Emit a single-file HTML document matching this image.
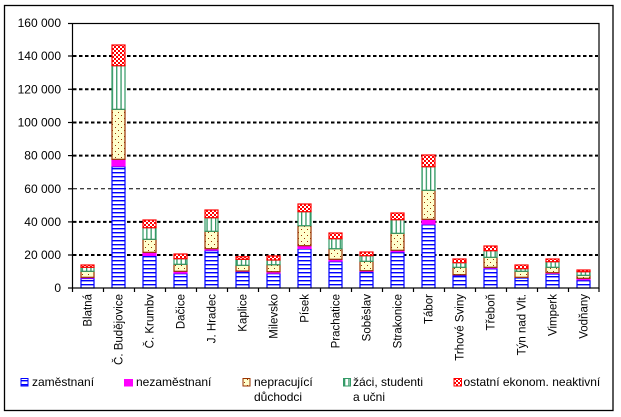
<!DOCTYPE html>
<html><head><meta charset="utf-8"><style>
html,body{margin:0;padding:0;background:#fff;}
svg{display:block;}
text{font-family:"Liberation Sans",Arial,sans-serif;fill:#000;}
</style></head><body>
<svg width="621" height="417" viewBox="0 0 621 417" xmlns="http://www.w3.org/2000/svg">
<defs>
<pattern id="pb" patternUnits="userSpaceOnUse" width="8" height="4"><rect width="8" height="4" fill="#fff"/><rect y="0" width="8" height="1.4" fill="#0000FF"/></pattern>
<pattern id="pg" patternUnits="userSpaceOnUse" width="4.3" height="4"><rect width="4.3" height="4" fill="#fff"/><rect x="0" width="1.3" height="4" fill="#339966"/></pattern>
<pattern id="pr" patternUnits="userSpaceOnUse" width="4" height="4"><rect width="4" height="4" fill="#fff"/><rect width="2" height="2" fill="#FF0000"/><rect x="2" y="2" width="2" height="2" fill="#FF0000"/></pattern>
<pattern id="py" patternUnits="userSpaceOnUse" width="6" height="6"><rect width="6" height="6" fill="#FFFFCC"/><rect x="1" y="1" width="1" height="1" fill="#993300"/><rect x="4" y="4" width="1" height="1" fill="#993300"/></pattern>
</defs>
<rect x="0" y="0" width="621" height="417" fill="#fff"/>
<rect x="4.5" y="5.5" width="608.5" height="405" fill="none" stroke="#000" stroke-width="1.3"/>
<g stroke="#000" stroke-width="2" stroke-dasharray="3.5,2.5">
<line x1="73" y1="56" x2="598" y2="56"/>
<line x1="73" y1="89.3" x2="598" y2="89.3"/>
<line x1="73" y1="122.5" x2="598" y2="122.5"/>
<line x1="73" y1="155.6" x2="598" y2="155.6"/>
<line x1="73" y1="221.9" x2="598" y2="221.9"/>
<line x1="73" y1="255" x2="598" y2="255"/>
</g>
<line x1="73" y1="188.8" x2="598" y2="188.8" stroke="#000" stroke-width="1" stroke-dasharray="4,3"/>
<g id="bars" stroke-width="1.2">
</g>
<rect x="72.5" y="23.5" width="526.5" height="264.5" fill="none" stroke="#000" stroke-width="1.2"/>
<g stroke="#000" stroke-width="1.2">
<line x1="68" y1="23.5" x2="72" y2="23.5"/><line x1="68" y1="56" x2="72" y2="56"/><line x1="68" y1="89.3" x2="72" y2="89.3"/><line x1="68" y1="122.5" x2="72" y2="122.5"/><line x1="68" y1="155.6" x2="72" y2="155.6"/><line x1="68" y1="188.8" x2="72" y2="188.8"/><line x1="68" y1="221.9" x2="72" y2="221.9"/><line x1="68" y1="255" x2="72" y2="255"/><line x1="68" y1="288" x2="72" y2="288"/>
</g>
<g font-size="12" text-anchor="end" dominant-baseline="central">
<text x="61" y="23">160 000</text><text x="61" y="56">140 000</text><text x="61" y="89.3">120 000</text><text x="61" y="122.5">100 000</text><text x="61" y="155.6">80 000</text><text x="61" y="188.8">60 000</text><text x="61" y="221.9">40 000</text><text x="61" y="255">20 000</text><text x="61" y="288">0</text>
</g>
<g id="xt" stroke="#000" stroke-width="1.2"></g>
<g id="xl" font-size="11.5" text-anchor="end"></g>
<g font-size="12">
<rect x="21" y="378.5" width="7" height="7.5" fill="url(#pb)" stroke="#0000FF" stroke-width="1"/>
<text x="32" y="386">zaměstnaní</text>
<rect x="124" y="379" width="9" height="7.5" fill="#FF00FF"/>
<text x="136" y="386">nezaměstnaní</text>
<rect x="243" y="378.5" width="7" height="7.5" fill="url(#py)" stroke="#993300" stroke-width="1"/>
<text x="254" y="386">nepracující</text>
<text x="254" y="401">důchodci</text>
<rect x="343.5" y="378.5" width="7" height="7.5" fill="url(#pg)" stroke="#339966" stroke-width="1"/>
<text x="353" y="386">žáci, studenti</text>
<text x="353" y="401">a učni</text>
<rect x="454" y="378.5" width="7.5" height="7.5" fill="url(#pr)" stroke="#FF0000" stroke-width="1"/>
<text x="463.5" y="386">ostatní ekonom. neaktivní</text>
</g>
</svg>
<script>
(function(){
var NS="http://www.w3.org/2000/svg";
var d=[[265,267.3,271.3,277.3,278.5],[45,65.7,109.3,159.3,166.7],[220,227.7,239.3,252.3,256],[254,258.7,264.3,271.3,273.7],[210,217.7,231.3,248.7,250.7],[256.7,259.3,265.3,271,272],[256,260,264.7,271.7,273.7],[204,211.7,225.7,245.7,249],[233,238.7,248.7,259.3,261.7],[252,255.7,261.3,270.7,272],[213,219.7,233.3,250.3,252.3],[155,166.7,190.3,219.3,224.7],[259,262.7,267.3,274.7,275.5],[246,250.7,257.3,267.3,268.7],[265,268.7,271.3,277.3,278],[259,261.7,267.3,272.7,274],[270,271.7,275.3,278.3,280.3]];
var names=["Blatná","Č. Budějovice","Č. Krumbv","Dačice","J. Hradec","Kaplice","Milevsko","Písek","Prachatice","Soběslav","Strakonice","Tábor","Trhové Sviny","Třeboň","Týn nad Vlt.","Vimperk","Vodňany"];
var bars=document.getElementById("bars"),xt=document.getElementById("xt"),xl=document.getElementById("xl");
function r(x,y,w,h,f,s){var e=document.createElementNS(NS,"rect");e.setAttribute("x",x);e.setAttribute("y",y);e.setAttribute("width",w);e.setAttribute("height",Math.max(h,0.01));e.setAttribute("fill",f);if(s){e.setAttribute("stroke",s);}else{e.setAttribute("stroke","none");}bars.appendChild(e);}
for(var i=0;i<17;i++){
var c=72+31*(i+0.5),x=c-6.5,w=13,v=d[i];
r(x,v[4],w,288-v[4],"url(#pb)","#0000FF");
r(x-0.6,v[3],w+1.2,v[4]-v[3],"#FF00FF",null);
r(x,v[2],w,v[3]-v[2],"url(#py)","#993300");
r(x,v[1],w,v[2]-v[1],"url(#pg)","#339966");
r(x,v[0],w,v[1]-v[0],"url(#pr)","#FF0000");
var t=document.createElementNS(NS,"text");t.setAttribute("transform","translate("+(c+4)+",294) rotate(-90)");t.textContent=names[i];xl.appendChild(t);
}
for(var k=0;k<=17;k++){var xx=72.5+31*k;if(k==17)xx=599;var l=document.createElementNS(NS,"line");l.setAttribute("x1",xx);l.setAttribute("x2",xx);l.setAttribute("y1",288);l.setAttribute("y2",292);xt.appendChild(l);}
})();
</script>
</body></html>
